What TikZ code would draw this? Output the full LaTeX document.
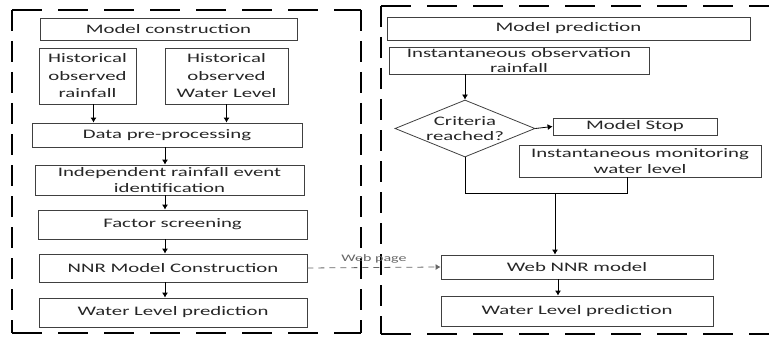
\documentclass[tikz,border=0pt]{standalone}
\usepackage{fontspec}
\setmainfont{Carlito}[FakeStretch=1.6]
\usetikzlibrary{arrows.meta,shapes.geometric}
\begin{document}
\begin{tikzpicture}[x=1pt,y=-1pt,
  box/.style={draw=black!75,line width=0.8pt,inner sep=0pt,align=center,text=black!85,
    font=\fontsize{13}{16}\selectfont},
  arr/.style={draw=black,line width=0.8pt,-{Latex[length=5pt,width=6pt]}},
  conn/.style={draw=black,line width=0.8pt},
  frameh/.style={line width=2.6pt,dash pattern=on 30pt off 16pt},
  framev/.style={line width=2.6pt,dash pattern=on 21pt off 10pt},
  webarr/.style={draw=black!60,line width=0.8pt,dash pattern=on 6pt off 5pt,-{Latex[length=5pt,width=6pt]}}]
\useasboundingbox (0,0) rectangle (769,337);
\begin{scope}
\clip (0,0) rectangle (769,337);
% left frame
\draw[frameh] (12,10) -- (361,10);
\draw[framev] (361,10) -- (361,333);
\draw[frameh] (12,333) -- (361,333);
\draw[framev] (12,10) -- (12,333);
% right frame
\draw[frameh] (381,6) -- (790,6);
\draw[frameh] (381,334) -- (790,334);
\draw[framev] (381,6) -- (381,334);
\end{scope}

% left panel
\node[box,minimum width=257,minimum height=22] (mc) at (168.5,29) {Model construction};
\node[box,minimum width=97,minimum height=56,font=\fontsize{13}{17.5}\selectfont] (h1) at (87.5,76) {Historical\\observed\\rainfall};
\node[box,minimum width=123,minimum height=56,font=\fontsize{13}{17.5}\selectfont] (h2) at (226.5,76) {Historical\\observed\\Water Level};
\node[box,minimum width=270,minimum height=24] (dpp) at (167,135) {Data pre-processing};
\node[box,minimum width=269,minimum height=30] (ire) at (169.5,180) {Independent rainfall event\\identification};
\node[box,minimum width=269,minimum height=29] (fs) at (172.5,224.5) {Factor screening};
\node[box,minimum width=268,minimum height=28] (nnr) at (173,268) {NNR Model Construction};
\node[box,minimum width=268,minimum height=29] (wlp1) at (173,312.5) {Water Level prediction};
\coordinate (ax) at (165,0);

\draw[arr] ([xshift=6pt]h1.south) -- ([xshift=6pt]h1.south |- dpp.north);
\draw[arr] (h2.south) -- (h2.south |- dpp.north);
\draw[arr] (dpp.south -| ax) -- (ire.north -| ax);
\draw[arr] (ire.south -| ax) -- (fs.north -| ax);
\draw[arr] (fs.south -| ax) -- (nnr.north -| ax);
\draw[arr] (nnr.south -| ax) -- (wlp1.north -| ax);

% right panel
\node[box,minimum width=363,minimum height=23] (mp) at (568.5,28.5) {Model prediction};
\node[box,minimum width=260,minimum height=27,font=\fontsize{13}{15}\selectfont] (ior) at (519,60.5) {Instantaneous observation\\rainfall};
\node[box,shape=diamond,aspect=2.46,minimum width=140,minimum height=57,font=\fontsize{13}{15}\selectfont] (diam) at (465,128.5) {Criteria\\reached?};
\node[box,minimum width=164,minimum height=17] (ms) at (635,126.5) {Model Stop};
\node[box,minimum width=242,minimum height=32,font=\fontsize{13}{16}\selectfont] (imwl) at (640,161) {Instantaneous monitoring\\water level};
\node[box,minimum width=272,minimum height=24] (wnnr) at (577,267) {Web NNR model};
\node[box,minimum width=272,minimum height=30] (wlp2) at (577,311) {Water Level prediction};

\coordinate (j1) at (465,193);
\coordinate (j2) at (627,193);
\coordinate (j3) at (555,193);
\coordinate (ax2) at (558,0);

\draw[arr] (diam.north |- ior.south) -- (diam.north);
\draw[arr] (diam.east) -- (ms.west);
\draw[conn] (diam.south) -- (j1) -- (j2) -- (j2 |- imwl.south);
\draw[arr] (j3) -- (j3 |- wnnr.north);
\draw[arr] (wnnr.south -| ax2) -- (wlp2.north -| ax2);

% web page link
\draw[webarr] (nnr.east) -- (wnnr.west) node[midway,above=1pt,text=black!60,font=\fontsize{10}{12}\selectfont] (wp) {Web page};
\end{tikzpicture}
\end{document}
